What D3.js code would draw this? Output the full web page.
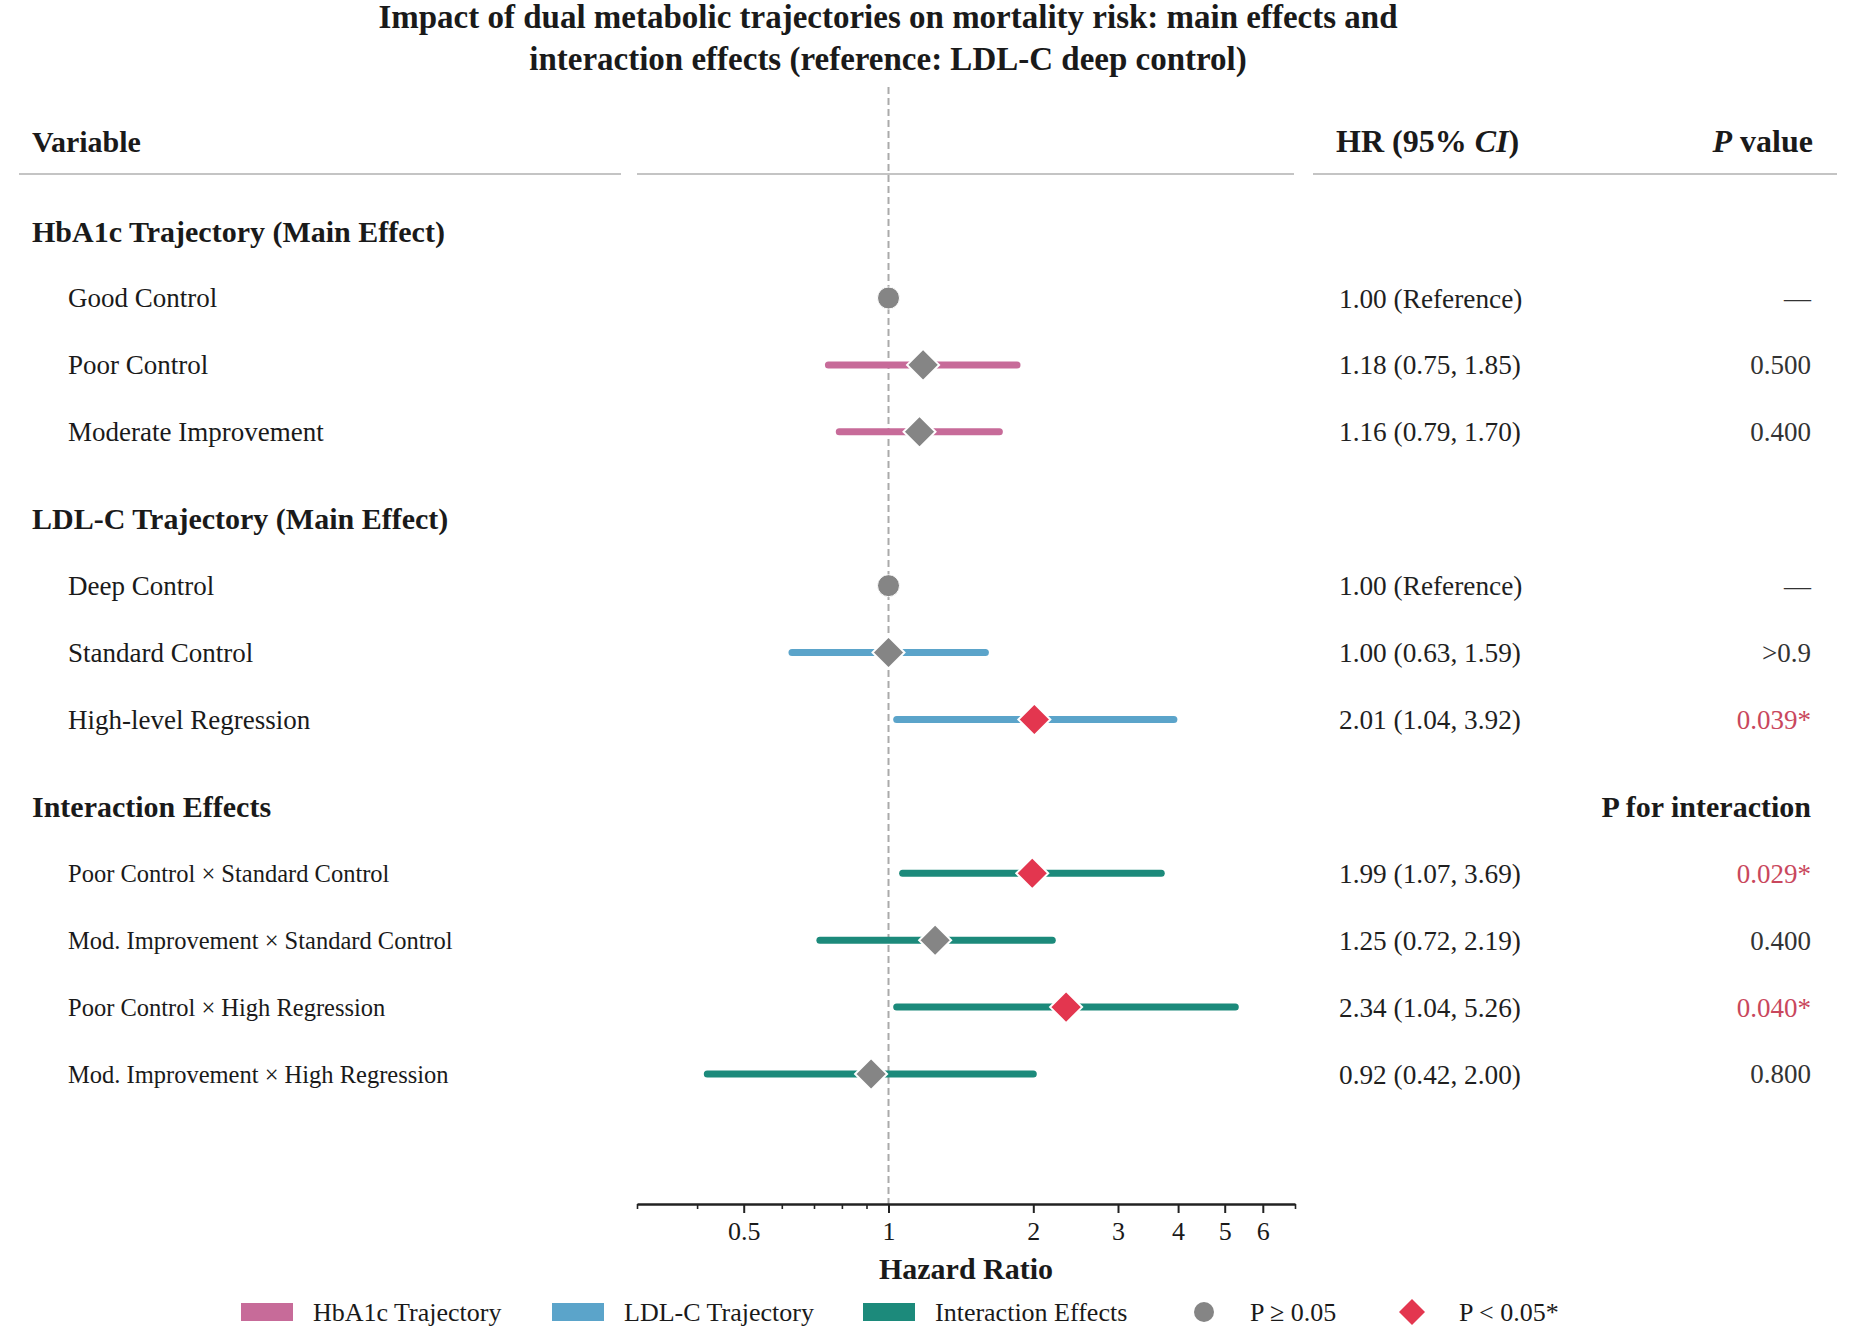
<!DOCTYPE html>
<html>
<head>
<meta charset="utf-8">
<script src="https://cdn.jsdelivr.net/npm/d3@7"></script>
<style>
  html, body { margin: 0; padding: 0; background: #fff; }
  svg { display: block; font-family: "Liberation Serif", "Times New Roman", serif; }
</style>
</head>
<body>
<svg id="chart" width="1858" height="1333"></svg>
<script>
"use strict";

// ── Data ───────────────────────────────────────────────────────────────────
const sectionTitles = ["HbA1c Trajectory (Main Effect)", "LDL-C Trajectory (Main Effect)", "Interaction Effects"];
const sectionPos    = [0, 4.3, 8.6];

const rowLabels = [
  "Good Control", "Poor Control", "Moderate Improvement",
  "Deep Control", "Standard Control", "High-level Regression",
  "Poor Control \u00d7 Standard Control", "Mod. Improvement \u00d7 Standard Control",
  "Poor Control \u00d7 High Regression", "Mod. Improvement \u00d7 High Regression"
];
const rowPos    = [1, 2, 3, 5.3, 6.3, 7.3, 9.6, 10.6, 11.6, 12.6];
const rowGroup  = ["hba1c", "hba1c", "hba1c", "ldl", "ldl", "ldl", "inter", "inter", "inter", "inter"];
const isRef     = [true, false, false, true, false, false, false, false, false, false];
const hrValues  = [1.00, 1.18, 1.16, 1.00, 1.00, 2.01, 1.99, 1.25, 2.34, 0.92];
const ciLower   = [null, 0.75, 0.79, null, 0.63, 1.04, 1.07, 0.72, 1.04, 0.42];
const ciUpper   = [null, 1.85, 1.70, null, 1.59, 3.92, 3.69, 2.19, 5.26, 2.00];
const pLabels   = ["\u2014", "0.500", "0.400", "\u2014", ">0.9", "0.039*", "0.029*", "0.400", "0.040*", "0.800"];

const majorTicks = [0.5, 1, 2, 3, 4, 5, 6];
const minorTicks = [0.3, 0.4, 0.6, 0.7, 0.8, 0.9, 7];

const groupColor = { hba1c: "#c76b99", ldl: "#5ba4ca", inter: "#1c8a7b" };
const GREY = "#858585";
const RED  = "#e3364f";

const rows = rowLabels.map((label, i) => ({
  label, pos: rowPos[i], group: rowGroup[i], ref: isRef[i],
  hr: hrValues[i], lo: ciLower[i], hi: ciUpper[i], p: pLabels[i],
  sig: pLabels[i].includes("*")
}));

// ── Layout ─────────────────────────────────────────────────────────────────
const svg = d3.select("#chart");
const x = d3.scaleLog().domain([0.3, 7]).range([637, 1295]);
const y = d3.scaleLinear().domain([1, 12.6]).range([298, 1074]);
const axisY = 1204;
const colHR = 1339, colP = 1811;

// Title
const title = svg.append("text").attr("text-anchor", "middle")
  .attr("font-size", 33).attr("font-weight", "bold").attr("fill", "#1a1a1a");
title.append("tspan").attr("x", 888).attr("y", 28)
  .text("Impact of dual metabolic trajectories on mortality risk: main effects and");
title.append("tspan").attr("x", 888).attr("y", 70)
  .text("interaction effects (reference: LDL-C deep control)");

// Column headers
svg.append("text").attr("x", 32).attr("y", 152)
  .attr("font-size", 30).attr("font-weight", "bold").attr("fill", "#1a1a1a").text("Variable");

const hrHead = svg.append("text").attr("x", 1336).attr("y", 152)
  .attr("font-size", 32).attr("font-weight", "bold").attr("fill", "#1a1a1a");
hrHead.append("tspan").text("HR (95% ");
hrHead.append("tspan").attr("font-style", "italic").text("CI");
hrHead.append("tspan").text(")");

const pHead = svg.append("text").attr("x", colP + 2).attr("y", 152).attr("text-anchor", "end")
  .attr("font-size", 32).attr("font-weight", "bold").attr("fill", "#1a1a1a");
pHead.append("tspan").attr("font-style", "italic").text("P");
pHead.append("tspan").text(" value");

[[19, 621], [637, 1294], [1313, 1837]].forEach(([a, b]) => {
  svg.append("line").attr("x1", a).attr("x2", b).attr("y1", 174).attr("y2", 174)
    .attr("stroke", "#c4c4c4").attr("stroke-width", 2);
});

// Reference line at HR = 1
svg.append("line")
  .attr("x1", x(1)).attr("x2", x(1)).attr("y1", 87).attr("y2", axisY)
  .attr("stroke", "#aaaaaa").attr("stroke-width", 2).attr("stroke-dasharray", "7,4");

// Section headers
svg.selectAll(".section").data(sectionTitles).join("text")
  .attr("class", "section")
  .attr("x", 32).attr("y", (d, i) => y(sectionPos[i])).attr("dy", "0.35em")
  .attr("font-size", 30).attr("font-weight", "bold").attr("fill", "#1a1a1a")
  .text(d => d);

svg.append("text").attr("x", colP).attr("y", y(sectionPos[2])).attr("dy", "0.35em")
  .attr("text-anchor", "end").attr("font-size", 30).attr("font-weight", "bold").attr("fill", "#1a1a1a")
  .text("P for interaction");

// Row labels
svg.selectAll(".row-label").data(rows).join("text")
  .attr("class", "row-label")
  .attr("x", 68).attr("y", d => y(d.pos)).attr("dy", "0.35em")
  .attr("font-size", d => d.group === "inter" ? 24.5 : 27).attr("fill", "#1a1a1a")
  .text(d => d.label);

// HR column
const fmt = d3.format(".2f");
svg.selectAll(".hr-text").data(rows).join("text")
  .attr("class", "hr-text")
  .attr("x", colHR).attr("y", d => y(d.pos)).attr("dy", "0.35em")
  .attr("font-size", 27.3).attr("fill", "#1f1f1f")
  .text(d => d.ref ? `${fmt(d.hr)} (Reference)` : `${fmt(d.hr)} (${fmt(d.lo)}, ${fmt(d.hi)})`);

// P column
svg.selectAll(".p-text").data(rows).join("text")
  .attr("class", "p-text")
  .attr("x", colP).attr("y", d => y(d.pos)).attr("dy", "0.35em")
  .attr("text-anchor", "end").attr("font-size", 27)
  .attr("fill", d => d.sig ? "#c9475d" : "#333333")
  .text(d => d.p);

// CI lines
const ciRows = rows.filter(d => !d.ref);
svg.selectAll(".ci").data(ciRows).join("line")
  .attr("class", "ci")
  .attr("x1", d => x(d.lo)).attr("x2", d => x(d.hi))
  .attr("y1", d => y(d.pos)).attr("y2", d => y(d.pos))
  .attr("stroke", d => groupColor[d.group])
  .attr("stroke-width", 7).attr("stroke-linecap", "round");

// Markers
const diamond = (cx, cy, r) => `M${cx},${cy - r}L${cx + r},${cy}L${cx},${cy + r}L${cx - r},${cy}Z`;

svg.selectAll(".ref-dot").data(rows.filter(d => d.ref)).join("circle")
  .attr("class", "ref-dot")
  .attr("cx", d => x(d.hr)).attr("cy", d => y(d.pos)).attr("r", 11)
  .attr("fill", GREY).attr("stroke", "#fff").attr("stroke-width", 1);

svg.selectAll(".est").data(ciRows).join("path")
  .attr("class", "est")
  .attr("d", d => diamond(x(d.hr), y(d.pos), 16))
  .attr("fill", d => d.sig ? RED : GREY)
  .attr("stroke", "#fff").attr("stroke-width", 2);

// X axis
const gAxis = svg.append("g").attr("transform", `translate(0,${axisY})`);
gAxis.append("g")
  .call(d3.axisBottom(x).tickValues(minorTicks).tickSize(5).tickFormat(""))
  .call(g => g.select(".domain").remove())
  .call(g => g.selectAll(".tick line").attr("stroke", "#222").attr("stroke-width", 1.6));
gAxis.append("g")
  .call(d3.axisBottom(x).tickValues(majorTicks).tickSize(9).tickPadding(9).tickSizeOuter(0)
    .tickFormat(d3.format("~g")))
  .call(g => g.select(".domain").attr("stroke", "#222").attr("stroke-width", 2.4))
  .call(g => g.selectAll(".tick line").attr("stroke", "#222").attr("stroke-width", 2))
  .call(g => g.selectAll(".tick text").attr("font-size", 26).attr("fill", "#1a1a1a")
    .attr("font-family", "Liberation Serif, Times New Roman, serif"));

svg.append("text").attr("x", (x.range()[0] + x.range()[1]) / 2).attr("y", 1279)
  .attr("text-anchor", "middle").attr("font-size", 30).attr("font-weight", "bold").attr("fill", "#1a1a1a")
  .text("Hazard Ratio");

// Legend
const legendY = 1312;
const legendBars = [
  { label: "HbA1c Trajectory", color: groupColor.hba1c, x: 241 },
  { label: "LDL-C Trajectory", color: groupColor.ldl, x: 552 },
  { label: "Interaction Effects", color: groupColor.inter, x: 863 }
];
legendBars.forEach(item => {
  svg.append("rect").attr("x", item.x).attr("y", legendY - 9).attr("width", 52).attr("height", 18)
    .attr("fill", item.color);
  svg.append("text").attr("x", item.x + 72).attr("y", legendY).attr("dy", "0.35em")
    .attr("font-size", 26).attr("fill", "#1a1a1a").text(item.label);
});
svg.append("circle").attr("cx", 1204).attr("cy", legendY).attr("r", 10).attr("fill", GREY);
svg.append("text").attr("x", 1250).attr("y", legendY).attr("dy", "0.35em")
  .attr("font-size", 26).attr("fill", "#1a1a1a").text("P \u2265 0.05");
svg.append("path").attr("d", diamond(1412, legendY, 13)).attr("fill", RED);
svg.append("text").attr("x", 1459).attr("y", legendY).attr("dy", "0.35em")
  .attr("font-size", 26).attr("fill", "#1a1a1a").text("P < 0.05*");
</script>
</body>
</html>
